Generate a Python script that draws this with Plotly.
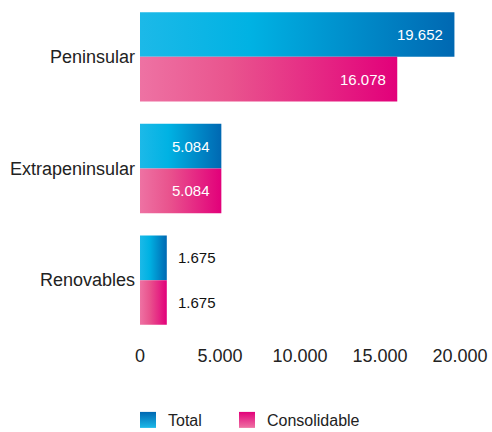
import plotly.graph_objects as go

categories = ["Peninsular", "Extrapeninsular", "Renovables"]
total = [19652, 5084, 1675]
consolidable = [16078, 5084, 1675]
x_tick_vals = [0, 5000, 10000, 15000, 20000]
x_tick_text = ["0", "5.000", "10.000", "15.000", "20.000"]

series = [
    ("Total", total, ["#1cb9e8", "#00b2e3", "#0068b2"], -0.4, 0.0, "legend"),
    ("Consolidable", consolidable, ["#ee72a3", "#e9548e", "#e2007a"], 0.0, 0.4, "legend2"),
]

FONT = "Liberation Sans"
fig = go.Figure()
annotations = []

for name, vals, cols, o0, o1, lg in series:
    cscale = [[0, cols[0]], [0.35, cols[1]], [1, cols[2]]]
    for i, v in enumerate(vals):
        y0, y1 = i + o0, i + o1
        fig.add_trace(go.Scatter(
            x=[0, v, v, 0, 0], y=[y0, y0, y1, y1, y0],
            mode="lines", fill="toself", line=dict(width=0),
            fillgradient=dict(type="horizontal", colorscale=cscale),
            showlegend=False, hoverinfo="skip", name=name,
        ))
        label = f"{v:,}".replace(",", ".")
        inside = v >= 3000
        annotations.append(dict(
            x=v, y=(y0 + y1) / 2, xref="x", yref="y", text=label, showarrow=False,
            xanchor="right" if inside else "left", xshift=-9 if inside else 9,
            font=dict(family=FONT, size=15, color="white" if inside else "#111"),
        ))
    # legend entry
    fig.add_trace(go.Scatter(
        x=[None], y=[None], mode="markers", name=name, legend=lg,
        marker=dict(symbol="square", size=16, color=cols[2],
                    gradient=dict(type="vertical", color=cols[0]), line=dict(width=0)),
    ))

legend_common = dict(orientation="h", xanchor="left", y=-0.2, yanchor="top",
                     font=dict(family=FONT, size=16, color="#222"), itemwidth=30,
                     bgcolor="rgba(0,0,0,0)")

fig.update_layout(
    width=492, height=432,
    margin=dict(l=140, r=32, t=1, b=96, autoexpand=False),
    paper_bgcolor="white", plot_bgcolor="white",
    font=dict(family=FONT, size=17, color="#222"),
    annotations=annotations,
    showlegend=True,
    legend=dict(x=-0.0375, **legend_common),
    legend2=dict(x=0.2719, **legend_common),
    xaxis=dict(range=[0, 20000], tickvals=x_tick_vals, ticktext=x_tick_text,
               showgrid=False, zeroline=False, showline=False, ticks="",
               ticklabelstandoff=7, tickfont=dict(size=18), automargin=False),
    yaxis=dict(range=[2.5, -0.5], tickvals=list(range(len(categories))),
               ticktext=categories, showgrid=False, zeroline=False,
               showline=False, ticks="", ticklabelstandoff=4,
               tickfont=dict(size=18), automargin=False),
)

fig.write_html("out.html", config={"displayModeBar": False},
               post_script="document.body.style.margin='0';")
